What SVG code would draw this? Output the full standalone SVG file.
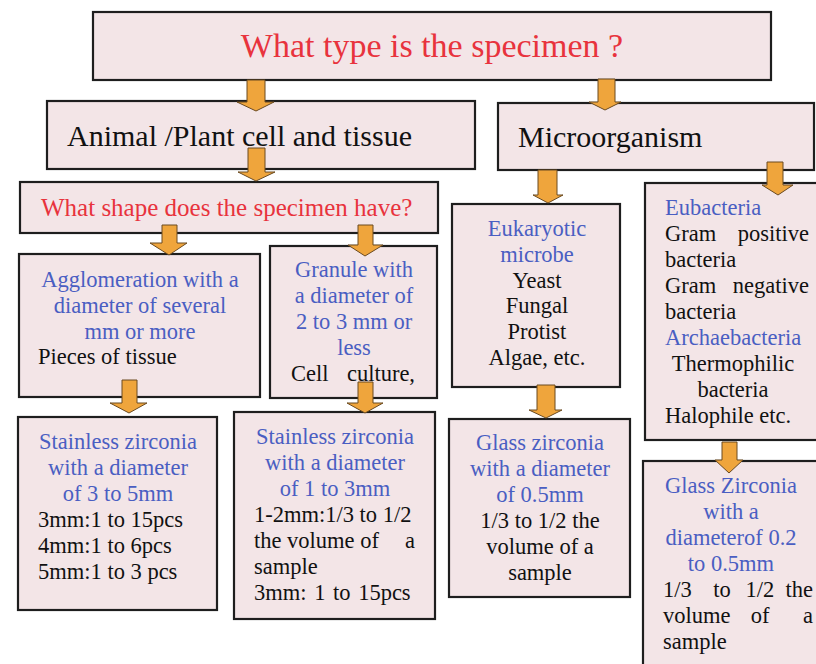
<svg xmlns="http://www.w3.org/2000/svg" width="816" height="664" viewBox="0 0 816 664">
<style>
.box{fill:#f3e5e7;stroke:#1e1e1e;stroke-width:2.2}
.arr{fill:#efa53c;stroke:#6a4a20;stroke-width:1}
.red{fill:#e8333d}
.blue{fill:#4a5ec2}
.c{text-anchor:middle}
.e{text-anchor:end}
.t{font-size:22.5px}
</style>
<rect width="816" height="664" fill="#ffffff"/>
<g font-family="'Liberation Serif', serif" fill="#111">
<g id="n-top"><rect class="box" x="93" y="12" width="678" height="68"/><text class="red c" x="432" y="57" font-size="34">What type is the specimen ?</text></g>
<g id="n-animal"><rect class="box" x="47" y="101" width="428" height="68"/><text x="67" y="146" font-size="30">Animal /Plant cell and tissue</text></g>
<g id="n-micro"><rect class="box" x="498" y="103" width="316" height="67"/><text x="518" y="147" font-size="30">Microorganism</text></g>
<g id="n-shape"><rect class="box" x="20" y="182" width="418" height="51"/><text class="red" x="41" y="216" font-size="25">What shape does the specimen have?</text></g>
<g id="n-agglo"><rect class="box" x="19" y="254" width="241" height="143"/>
<text class="t blue c" x="140" y="287">Agglomeration with a</text>
<text class="t blue c" x="140" y="313">diameter of several</text>
<text class="t blue c" x="140" y="339">mm or more</text>
<text class="t" x="38" y="364">Pieces of tissue</text></g>
<g id="n-granule"><rect class="box" x="270" y="246" width="167" height="152"/>
<text class="t blue c" x="354" y="277">Granule with</text>
<text class="t blue c" x="354" y="303">a diameter of</text>
<text class="t blue c" x="354" y="329">2 to 3 mm or</text>
<text class="t blue c" x="354" y="355">less</text>
<text class="t" x="291" y="381">Cell</text><text class="t e" x="415" y="381">culture,</text></g>
<g id="n-euk"><rect class="box" x="452" y="204" width="168" height="183"/>
<text class="t blue c" x="537" y="236">Eukaryotic</text>
<text class="t blue c" x="537" y="262">microbe</text>
<text class="t c" x="537" y="288">Yeast</text>
<text class="t c" x="537" y="313">Fungal</text>
<text class="t c" x="537" y="339">Protist</text>
<text class="t c" x="537" y="365">Algae, etc.</text></g>
<g id="n-eubac"><rect class="box" x="645" y="183" width="175" height="257"/>
<text class="t blue" x="665" y="215">Eubacteria</text>
<text class="t" x="665" y="241">Gram</text><text class="t e" x="809" y="241">positive</text>
<text class="t" x="665" y="267">bacteria</text>
<text class="t" x="665" y="293">Gram</text><text class="t e" x="809" y="293">negative</text>
<text class="t" x="665" y="319">bacteria</text>
<text class="t blue" x="665" y="345">Archaebacteria</text>
<text class="t c" x="733" y="371">Thermophilic</text>
<text class="t c" x="733" y="397">bacteria</text>
<text class="t" x="665" y="423">Halophile etc.</text></g>
<g id="n-ss1"><rect class="box" x="18" y="417" width="199" height="193"/>
<text class="t blue c" x="118" y="449">Stainless zirconia</text>
<text class="t blue c" x="118" y="475">with a diameter</text>
<text class="t blue c" x="118" y="501">of 3 to 5mm</text>
<text class="t" x="38" y="527">3mm:1 to 15pcs</text>
<text class="t" x="38" y="553">4mm:1 to 6pcs</text>
<text class="t" x="38" y="579">5mm:1 to 3 pcs</text></g>
<g id="n-ss2"><rect class="box" x="234" y="412" width="201" height="207"/>
<text class="t blue c" x="335" y="444">Stainless zirconia</text>
<text class="t blue c" x="335" y="470">with a diameter</text>
<text class="t blue c" x="335" y="496">of 1 to 3mm</text>
<text class="t" x="254" y="522">1-2mm:1/3 to 1/2</text>
<text class="t" x="254" y="548">the volume of</text><text class="t e" x="415" y="548">a</text>
<text class="t" x="254" y="574">sample</text>
<text class="t" x="254" y="600" word-spacing="2">3mm: 1 to 15pcs</text></g>
<g id="n-gz1"><rect class="box" x="449" y="419" width="181" height="178"/>
<text class="t blue c" x="540" y="450">Glass zirconia</text>
<text class="t blue c" x="540" y="476">with a diameter</text>
<text class="t blue c" x="540" y="502">of 0.5mm</text>
<text class="t c" x="540" y="528">1/3 to 1/2 the</text>
<text class="t c" x="540" y="554">volume of a</text>
<text class="t c" x="540" y="580">sample</text></g>
<g id="n-gz2"><rect class="box" x="643" y="461" width="177" height="210"/>
<text class="t blue c" x="731" y="493">Glass Zirconia</text>
<text class="t blue c" x="731" y="519">with a</text>
<text class="t blue c" x="731" y="545">diameterof 0.2</text>
<text class="t blue c" x="731" y="571">to 0.5mm</text>
<text class="t" x="663" y="597">1/3</text><text class="t c" x="722" y="597">to</text><text class="t c" x="760" y="597">1/2</text><text class="t e" x="813" y="597">the</text>
<text class="t" x="663" y="623">volume</text><text class="t c" x="760" y="623">of</text><text class="t e" x="813" y="623">a</text>
<text class="t" x="663" y="649">sample</text></g>
</g>
<g id="connectors">
<path class="arr" d="M247 80 H265 V102 H274 L256 111 L237 102 H247 Z"/>
<path class="arr" d="M248 148 H265 V172 H275 L256 181 L238 172 H248 Z"/>
<path class="arr" d="M598 79 H615 V102 H621 L605 110 L589 102 H598 Z"/>
<path class="arr" d="M538 170 H557 V195 H563 L548 203 L533 195 H538 Z"/>
<path class="arr" d="M767 162 H783 V185 H793 L778 195 L762 185 H767 Z"/>
<path class="arr" d="M162 225 H177 V243 H187 L169 255 L150 243 H162 Z"/>
<path class="arr" d="M358 225 H373 V245 H383 L365 256 L348 245 H358 Z"/>
<path class="arr" d="M122 380 H137 V403 H147 L129 413 L110 403 H122 Z"/>
<path class="arr" d="M358 382 H373 V403 H383 L365 413 L347 403 H358 Z"/>
<path class="arr" d="M537 385 H555 V410 H562 L546 418 L529 410 H537 Z"/>
<path class="arr" d="M722 442 H737 V460 H743 L729 473 L715 460 H722 Z"/>
</g>
</svg>
